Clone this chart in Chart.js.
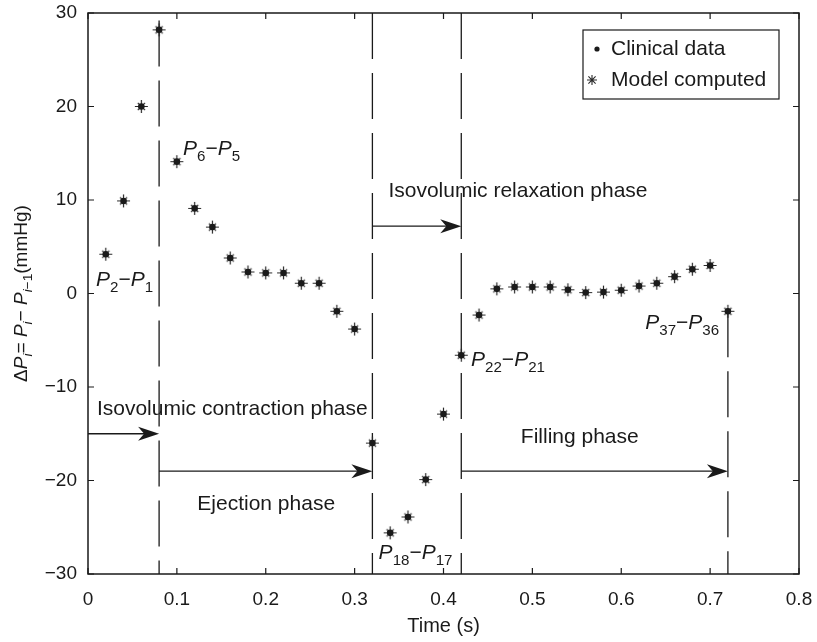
<!DOCTYPE html>
<html>
<head>
<meta charset="utf-8">
<script src="https://cdn.jsdelivr.net/npm/chart.js@4.4.0/dist/chart.umd.min.js"></script>
<style>
  html, body { margin: 0; padding: 0; background: #fff; }
</style>
</head>
<body>
<canvas id="chart" width="817" height="642"></canvas>
<script>
// pressure differences between consecutive samples, one every 0.02 s
const times = [0.02, 0.04, 0.06, 0.08, 0.10, 0.12, 0.14, 0.16, 0.18, 0.20, 0.22, 0.24,
  0.26, 0.28, 0.30, 0.32, 0.34, 0.36, 0.38, 0.40, 0.42, 0.44, 0.46, 0.48,
  0.50, 0.52, 0.54, 0.56, 0.58, 0.60, 0.62, 0.64, 0.66, 0.68, 0.70, 0.72];
const clinical = [4.2, 9.9, 20.0, 28.2, 14.1, 9.1, 7.1, 3.8, 2.3, 2.2, 2.2, 1.1,
  1.1, -1.9, -3.8, -16.0, -25.6, -23.9, -19.9, -12.9, -6.6, -2.3, 0.5, 0.7,
  0.7, 0.7, 0.4, 0.1, 0.15, 0.35, 0.8, 1.1, 1.8, 2.6, 3.0, -1.9];
const model = [4.2, 9.9, 20.0, 28.2, 14.1, 9.1, 7.1, 3.8, 2.3, 2.2, 2.2, 1.1,
  1.1, -1.9, -3.8, -16.0, -25.6, -23.9, -19.9, -12.9, -6.6, -2.3, 0.5, 0.7,
  0.7, 0.7, 0.4, 0.1, 0.15, 0.35, 0.8, 1.1, 1.8, 2.6, 3.0, -1.9];

const xTicks = [0, 0.1, 0.2, 0.3, 0.4, 0.5, 0.6, 0.7, 0.8];
const yTicks = [-30, -20, -10, 0, 10, 20, 30];

// phase boundaries (s) and where the dashed markers start (mmHg)
const phaseBounds = [0.08, 0.32, 0.42, 0.72];
const boundTops = [29.2, 30, 30, -1.9];

const FONT = '"Liberation Sans", Arial, Helvetica, sans-serif';
const INK = '#1a1a1a';

function fmt(v) {
  return v < 0 ? '\u2212' + Math.abs(v) : String(v);
}

// draw a run of text pieces (italic / subscript), returns width
function rich(ctx, segs, x, y, size, dry) {
  let cx = x;
  for (const s of segs) {
    const fs = s.sub ? size * 0.72 : size;
    ctx.font = (s.it ? 'italic ' : '') + fs + 'px ' + FONT;
    if (!dry) ctx.fillText(s.t, cx, y + (s.sub ? size * 0.27 : 0));
    cx += ctx.measureText(s.t).width;
  }
  return cx - x;
}

function pDiff(a, b) {
  return [{t: 'P', it: 1}, {t: a, sub: 1}, {t: '\u2212'}, {t: 'P', it: 1}, {t: b, sub: 1}];
}

// annotation texts: [x, y] in data units, left edge / baseline
const labels = [
  {x: 0.009, y: 0.8, segs: pDiff('2', '1')},
  {x: 0.107, y: 14.8, segs: pDiff('6', '5')},
  {x: 0.327, y: -28.4, segs: pDiff('18', '17')},
  {x: 0.431, y: -7.75, segs: pDiff('22', '21')},
  {x: 0.627, y: -3.85, segs: pDiff('37', '36')},
  {x: 0.010, y: -13.0, segs: [{t: 'Isovolumic contraction phase'}]},
  {x: 0.123, y: -23.15, segs: [{t: 'Ejection phase'}]},
  {x: 0.338, y: 10.35, segs: [{t: 'Isovolumic relaxation phase'}]},
  {x: 0.487, y: -16.0, segs: [{t: 'Filling phase'}]}
];

// phase arrows: from, to (s), level (mmHg)
const arrows = [
  [0, 0.08, -15],
  [0.08, 0.32, -19],
  [0.32, 0.42, 7.2],
  [0.42, 0.72, -19]
];

// asterisk marker: long upright arms, short diagonal ones
function makeStar(r, d, lw) {
  const c = document.createElement('canvas');
  const n = Math.ceil(2 * r + 4);
  c.width = n; c.height = n;
  const g = c.getContext('2d');
  const m = n / 2;
  g.strokeStyle = '#2a2a2a';
  g.lineWidth = lw;
  g.beginPath();
  g.moveTo(m - r, m); g.lineTo(m + r, m);
  g.moveTo(m, m - r); g.lineTo(m, m + r);
  g.moveTo(m - d, m - d); g.lineTo(m + d, m + d);
  g.moveTo(m - d, m + d); g.lineTo(m + d, m - d);
  g.stroke();
  return c;
}
const starMark = makeStar(6.5, 3.6, 1.2);
const starLegend = makeStar(5, 3.6, 1.1);

const decor = {
  id: 'decor',
  beforeDatasetsDraw(chart) {
    const {ctx, chartArea: a, scales: {x, y}} = chart;
    ctx.save();
    ctx.strokeStyle = INK;
    ctx.fillStyle = INK;
    ctx.lineWidth = 1.3;
    // dashed phase boundaries
    ctx.setLineDash([46, 14]);
    phaseBounds.forEach((t, i) => {
      const px = x.getPixelForValue(t);
      ctx.beginPath();
      ctx.moveTo(px, y.getPixelForValue(boundTops[i]));
      ctx.lineTo(px, a.bottom);
      ctx.stroke();
    });
    ctx.setLineDash([]);
    // arrows
    arrows.forEach(([t0, t1, v]) => {
      const x0 = x.getPixelForValue(t0), x1 = x.getPixelForValue(t1), py = y.getPixelForValue(v);
      ctx.beginPath();
      ctx.moveTo(x0, py); ctx.lineTo(x1 - 12, py);
      ctx.stroke();
      ctx.beginPath();
      ctx.moveTo(x1, py);
      ctx.lineTo(x1 - 21, py - 7);
      ctx.lineTo(x1 - 15, py);
      ctx.lineTo(x1 - 21, py + 7);
      ctx.closePath();
      ctx.fill();
    });
    ctx.restore();
  },
  afterDatasetsDraw(chart) {
    const {ctx, chartArea: a, scales: {x, y}} = chart;
    ctx.save();
    ctx.fillStyle = INK;
    ctx.strokeStyle = INK;
    // frame with inward ticks
    ctx.lineWidth = 1.5;
    ctx.strokeRect(a.left, a.top, a.right - a.left, a.bottom - a.top);
    ctx.lineWidth = 1.2;
    ctx.beginPath();
    xTicks.forEach(t => {
      const px = x.getPixelForValue(t);
      ctx.moveTo(px, a.bottom); ctx.lineTo(px, a.bottom - 6);
      ctx.moveTo(px, a.top); ctx.lineTo(px, a.top + 6);
    });
    yTicks.forEach(v => {
      const py = y.getPixelForValue(v);
      ctx.moveTo(a.left, py); ctx.lineTo(a.left + 6, py);
      ctx.moveTo(a.right, py); ctx.lineTo(a.right - 6, py);
    });
    ctx.stroke();

    // annotation texts
    ctx.textBaseline = 'alphabetic';
    labels.forEach(l => {
      rich(ctx, l.segs, x.getPixelForValue(l.x), y.getPixelForValue(l.y), 21);
    });

    // y axis title
    const ySegs = [{t: '\u0394'}, {t: 'P', it: 1}, {t: 'i', it: 1, sub: 1}, {t: '= '},
      {t: 'P', it: 1}, {t: 'i', it: 1, sub: 1}, {t: '\u2212 '}, {t: 'P', it: 1},
      {t: 'i', it: 1, sub: 1}, {t: '\u22121', sub: 1}, {t: '(mmHg)'}];
    const w = rich(ctx, ySegs, 0, 0, 19, true);
    ctx.save();
    ctx.translate(27, (a.top + a.bottom) / 2);
    ctx.rotate(-Math.PI / 2);
    rich(ctx, ySegs, -w / 2, 0, 19);
    ctx.restore();

    // x axis title
    ctx.font = '20px ' + FONT;
    ctx.textAlign = 'center';
    ctx.textBaseline = 'middle';
    ctx.fillText('Time (s)', (a.left + a.right) / 2, 626);

    // legend
    const bw = 196, bh = 69;
    const bx = a.right - 20 - bw, by = a.top + 17;
    ctx.fillStyle = '#fff';
    ctx.fillRect(bx, by, bw, bh);
    ctx.fillStyle = INK;
    ctx.lineWidth = 1.2;
    ctx.strokeRect(bx, by, bw, bh);
    ctx.beginPath();
    ctx.arc(bx + 14, by + 19, 2.6, 0, Math.PI * 2);
    ctx.fill();
    ctx.drawImage(starLegend, bx + 9 - starLegend.width / 2, by + 50 - starLegend.height / 2);
    ctx.font = '21px ' + FONT;
    ctx.textAlign = 'left';
    ctx.fillText('Clinical data', bx + 28, by + 19);
    ctx.fillText('Model computed', bx + 28, by + 50);
    ctx.restore();
  }
};

new Chart(document.getElementById('chart'), {
  type: 'scatter',
  data: {
    datasets: [
      {
        label: 'Clinical data',
        data: times.map((t, i) => ({x: t, y: clinical[i]})),
        pointStyle: 'circle',
        pointRadius: 3.3,
        backgroundColor: INK,
        borderColor: INK,
        borderWidth: 0,
        clip: false
      },
      {
        label: 'Model computed',
        data: times.map((t, i) => ({x: t, y: model[i]})),
        pointStyle: starMark,
        pointRadius: 6,
        clip: false
      }
    ]
  },
  options: {
    responsive: false,
    animation: false,
    events: [],
    layout: {padding: {top: 13, right: 18, left: 0, bottom: 0}},
    plugins: {legend: {display: false}, tooltip: {enabled: false}},
    scales: {
      x: {
        type: 'linear',
        min: 0,
        max: 0.8,
        afterBuildTicks: s => { s.ticks = xTicks.map(v => ({value: v})); },
        afterFit: s => { s.height = 68; s.paddingLeft = 0; s.paddingRight = 0; },
        grid: {display: false, drawTicks: false},
        border: {display: false},
        ticks: {
          color: INK,
          font: {family: FONT, size: 19},
          padding: 14,
          maxRotation: 0,
          autoSkip: false,
          callback: v => fmt(v)
        }
      },
      y: {
        type: 'linear',
        min: -30,
        max: 30,
        afterBuildTicks: s => { s.ticks = yTicks.map(v => ({value: v})); },
        afterFit: s => { s.width = 88; s.paddingTop = 0; s.paddingBottom = 0; },
        grid: {display: false, drawTicks: false},
        border: {display: false},
        ticks: {
          color: INK,
          font: {family: FONT, size: 19},
          padding: 11,
          autoSkip: false,
          callback: v => fmt(v)
        }
      }
    }
  },
  plugins: [decor]
});
</script>
</body>
</html>
